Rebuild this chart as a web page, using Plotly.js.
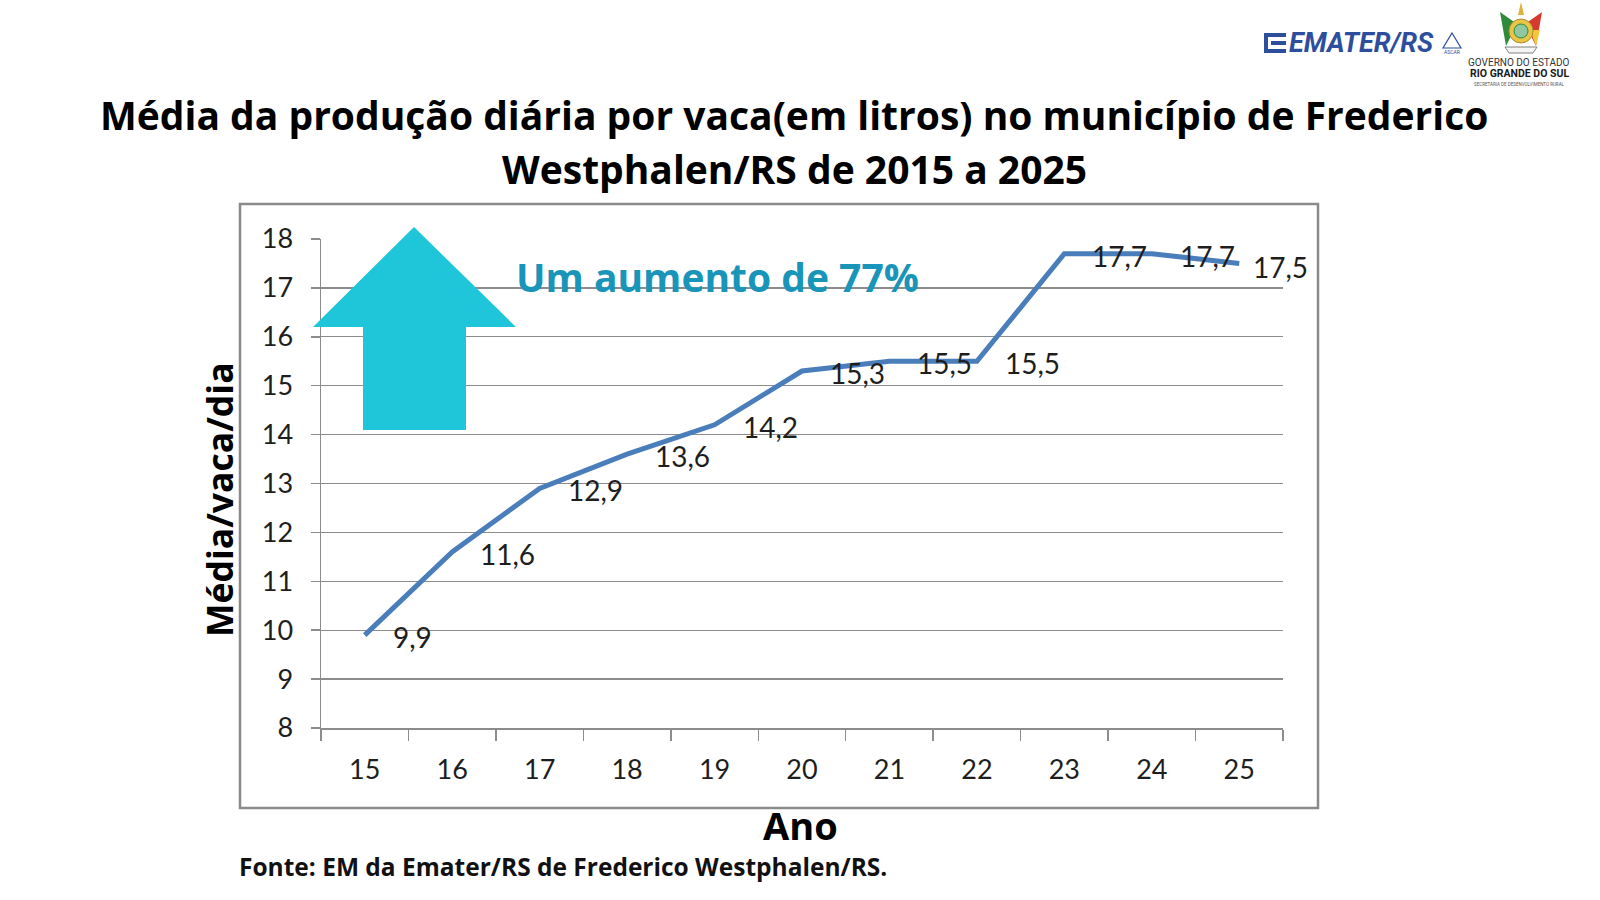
<!DOCTYPE html>
<html>
<head>
<meta charset="utf-8">
<script src="https://cdn.plot.ly/plotly-3.0.1.min.js"></script>
<style>
  html, body { margin: 0; padding: 0; background: #ffffff; }
  #chart { width: 1600px; height: 900px; }
</style>
</head>
<body>
<div id="chart"></div>
<script>
// ---- Data ----
const years = ['15', '16', '17', '18', '19', '20', '21', '22', '23', '24', '25'];
const mediaLitros = [9.9, 11.6, 12.9, 13.6, 14.2, 15.3, 15.5, 15.5, 17.7, 17.7, 17.5];
const yTicks = [8, 9, 10, 11, 12, 13, 14, 15, 16, 17, 18];

const titleLine1 = 'Média da produção diária por vaca(em litros) no município de Frederico';
const titleLine2 = 'Westphalen/RS de 2015 a 2025';
const yTitle = 'Média/vaca/dia';
const xTitle = 'Ano';
const sourceText = 'Fonte: EM da Emater/RS de Frederico Westphalen/RS.';
const highlightText = 'Um aumento de 77%';

// ---- Layout helpers (pixel -> paper) ----
const PL = 321, PR = 1283, PT = 239, PB = 728;
const xp = px => (px - PL) / (PR - PL);
const yp = py => (PB - py) / (PB - PT);

const tickFont = { family: 'Lato, "Open Sans", sans-serif', size: 27, color: '#1e1e1e' };
const labelFont = { family: 'Lato, "Open Sans", sans-serif', size: 28, color: '#1e1e1e' };
const boldFont = (size, color) => ({ family: '"Open Sans", "Noto Sans", sans-serif', size: size, color: color || '#000000', weight: 700 });

const trace = {
  type: 'scatter',
  mode: 'lines',
  x: years,
  y: mediaLitros,
  line: { color: '#4a7ebb', width: 5 },
  hoverinfo: 'x+y',
  showlegend: false
};

const annotations = [];
// data labels (category axis: position by category index)
years.forEach((yr, i) => {
  const last = i === years.length - 1;
  annotations.push({
    x: i, y: mediaLitros[i], xref: 'x', yref: 'y',
    text: mediaLitros[i].toFixed(1).replace('.', ','),
    showarrow: false, xanchor: 'left', yanchor: 'middle',
    xshift: last ? 12 : 26, yshift: last ? -4 : -2,
    font: labelFont
  });
});
// titles & texts
annotations.push(
  { xref: 'paper', yref: 'paper', x: xp(794), y: yp(114), text: '<b>' + titleLine1 + '</b>', showarrow: false, xanchor: 'center', yanchor: 'middle', font: boldFont(39) },
  { xref: 'paper', yref: 'paper', x: xp(794), y: yp(168), text: '<b>' + titleLine2 + '</b>', showarrow: false, xanchor: 'center', yanchor: 'middle', font: boldFont(39) },
  { xref: 'paper', yref: 'paper', x: xp(219), y: yp(500), text: '<b>' + yTitle + '</b>', textangle: -90, showarrow: false, xanchor: 'center', yanchor: 'middle', font: boldFont(35.5) },
  { xref: 'paper', yref: 'paper', x: xp(800), y: yp(825), text: '<b>' + xTitle + '</b>', showarrow: false, xanchor: 'center', yanchor: 'middle', font: boldFont(38) },
  { xref: 'paper', yref: 'paper', x: xp(237), y: yp(866), text: '<b>' + sourceText + '</b>', showarrow: false, xanchor: 'left', yanchor: 'middle', font: boldFont(24.5, '#111111') },
  { xref: 'paper', yref: 'paper', x: xp(717), y: yp(276), text: '<b>' + highlightText + '</b>', showarrow: false, xanchor: 'center', yanchor: 'middle', font: boldFont(39, '#1995ba') },
  // logos text
  { xref: 'paper', yref: 'paper', x: xp(1287), y: yp(43), text: '<b><i>EMATER/RS</i></b>', showarrow: false, xanchor: 'left', yanchor: 'middle', font: { family: 'Roboto, "Liberation Sans", sans-serif', size: 27, color: '#2d4e9c' } },
  { xref: 'paper', yref: 'paper', x: xp(1452), y: yp(52), text: 'ASCAR', showarrow: false, xanchor: 'center', yanchor: 'middle', font: { family: 'Roboto, sans-serif', size: 5, color: '#2d4e9c' } },
  { xref: 'paper', yref: 'paper', x: xp(1519), y: yp(62), text: 'GOVERNO DO ESTADO', showarrow: false, xanchor: 'center', yanchor: 'middle', font: { family: 'Roboto, sans-serif', size: 10, color: '#333333' } },
  { xref: 'paper', yref: 'paper', x: xp(1519), y: yp(74), text: '<b>RIO GRANDE DO SUL</b>', showarrow: false, xanchor: 'center', yanchor: 'middle', font: { family: 'Roboto, sans-serif', size: 10.5, color: '#1a1a1a' } },
  { xref: 'paper', yref: 'paper', x: xp(1519), y: yp(85), text: 'SECRETARIA DE DESENVOLVIMENTO RURAL', showarrow: false, xanchor: 'center', yanchor: 'middle', font: { family: 'Roboto, sans-serif', size: 4.5, color: '#555555' } }
);

const pathFrom = pts => 'M ' + pts.map(p => xp(p[0]) + ',' + yp(p[1])).join(' L ') + ' Z';

const shapes = [
  // outer chart frame
  { type: 'rect', xref: 'paper', yref: 'paper', x0: xp(240), x1: xp(1318), y0: yp(808), y1: yp(204), line: { color: '#8a8a8a', width: 2.5 }, fillcolor: 'rgba(0,0,0,0)', layer: 'below' },
  // big up arrow
  { type: 'path', xref: 'paper', yref: 'paper', layer: 'above',
    path: pathFrom([[414, 227], [516, 327], [466, 327], [466, 430], [363, 430], [363, 327], [313, 327]]),
    fillcolor: '#1fc6da', line: { width: 0 } },
  // EMATER icon
  { type: 'rect', xref: 'paper', yref: 'paper', x0: xp(1264), x1: xp(1268), y0: yp(53), y1: yp(33), fillcolor: '#2d4e9c', line: { width: 0 } },
  { type: 'rect', xref: 'paper', yref: 'paper', x0: xp(1264), x1: xp(1286), y0: yp(37), y1: yp(33), fillcolor: '#2d4e9c', line: { width: 0 } },
  { type: 'rect', xref: 'paper', yref: 'paper', x0: xp(1271), x1: xp(1286), y0: yp(45), y1: yp(41), fillcolor: '#2d4e9c', line: { width: 0 } },
  { type: 'rect', xref: 'paper', yref: 'paper', x0: xp(1264), x1: xp(1286), y0: yp(53), y1: yp(49), fillcolor: '#2d4e9c', line: { width: 0 } },
  // ASCAR icon
  { type: 'path', xref: 'paper', yref: 'paper', path: pathFrom([[1452, 33], [1461, 48], [1443, 48]]), fillcolor: 'rgba(0,0,0,0)', line: { color: '#2d4e9c', width: 1.2 } },
  // coat of arms
  { type: 'path', xref: 'paper', yref: 'paper', path: pathFrom([[1500, 12], [1517, 24], [1506, 46]]), fillcolor: '#2f8a3a', line: { width: 0 } },
  { type: 'path', xref: 'paper', yref: 'paper', path: pathFrom([[1542, 12], [1525, 24], [1536, 46]]), fillcolor: '#d63a2f', line: { width: 0 } },
  { type: 'path', xref: 'paper', yref: 'paper', path: pathFrom([[1536, 46], [1540, 30], [1530, 30]]), fillcolor: '#f2c83a', line: { width: 0 } },
  { type: 'circle', xref: 'paper', yref: 'paper', x0: xp(1509), x1: xp(1533), y0: yp(43), y1: yp(19), fillcolor: '#e9c547', line: { color: '#b08a2a', width: 1 } },
  { type: 'circle', xref: 'paper', yref: 'paper', x0: xp(1514), x1: xp(1528), y0: yp(38), y1: yp(24), fillcolor: '#8fc8a0', line: { color: '#2f8a3a', width: 1 } },
  { type: 'path', xref: 'paper', yref: 'paper', path: pathFrom([[1521, 2], [1524, 15], [1518, 15]]), fillcolor: '#e0b23a', line: { width: 0 } },
  { type: 'path', xref: 'paper', yref: 'paper', path: pathFrom([[1505, 47], [1537, 47], [1533, 53], [1509, 53]]), fillcolor: '#f4f4f4', line: { color: '#666666', width: 0.8 } }
];

const layout = {
  width: 1600, height: 900,
  paper_bgcolor: '#ffffff', plot_bgcolor: '#ffffff',
  margin: { l: PL, r: 1600 - PR, t: PT, b: 900 - PB, pad: 0 },
  showlegend: false,
  xaxis: {
    type: 'category',
    categoryorder: 'array', categoryarray: years,
    range: [-0.5, years.length - 0.5],
    tickson: 'boundaries',
    ticks: 'outside', ticklen: 11, tickwidth: 1.5, tickcolor: '#8c8c8c',
    showgrid: false, showline: true, linecolor: '#8c8c8c', linewidth: 1.5,
    zeroline: false,
    tickfont: tickFont,
    ticklabelstandoff: 17,
    fixedrange: true
  },
  yaxis: {
    range: [8, 18],
    tickmode: 'array', tickvals: yTicks, ticktext: yTicks.map(String),
    ticks: 'outside', ticklen: 9, tickwidth: 1.5, tickcolor: '#8c8c8c',
    showgrid: true, gridcolor: '#8c8c8c', gridwidth: 1.3,
    showline: true, linecolor: '#8c8c8c', linewidth: 1.5,
    zeroline: false,
    tickfont: tickFont,
    ticklabelstandoff: 12,
    fixedrange: true
  },
  annotations: annotations,
  shapes: shapes
};

Plotly.newPlot('chart', [trace], layout, { displayModeBar: false, staticPlot: true });
</script>
</body>
</html>
